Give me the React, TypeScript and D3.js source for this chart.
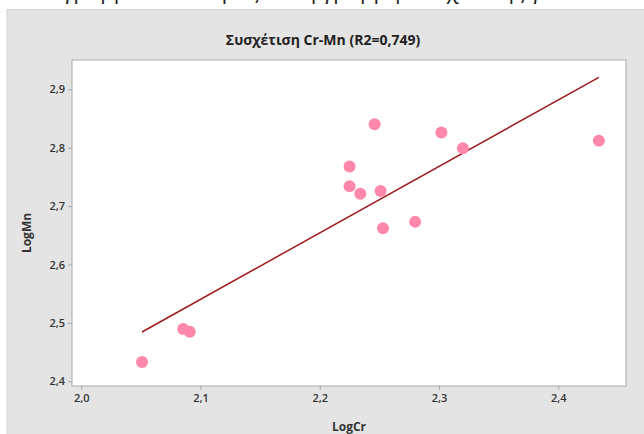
import React, { useEffect, useRef } from "react";
import * as d3 from "d3";

// LogCr / LogMn values
const logCr = [2.051, 2.0855, 2.091, 2.225, 2.225, 2.234, 2.246, 2.251, 2.253, 2.28, 2.302, 2.32, 2.434];
const logMn = [2.433, 2.4895, 2.485, 2.768, 2.734, 2.721, 2.84, 2.726, 2.662, 2.673, 2.826, 2.799, 2.812];

// fitted line (from the picture)
const fitSlope = 1.1386;
const fitIntercept = 0.1492;

const xTicks = [2.0, 2.1, 2.2, 2.3, 2.4];
const yTicks = [2.4, 2.5, 2.6, 2.7, 2.8, 2.9];

const title = "Συσχέτιση Cr-Mn (R2=0,749)";
const headerText = "Διάγραμμα διασποράς και η γραμμή συσχέτισης για Cr-Mn";

const App = () => {
  const svgRef = useRef<SVGSVGElement>(null);

  useEffect(() => {
    const svg = d3.select(svgRef.current);
    svg.selectAll("*").remove();
    const width = 644;
    const height = 434;
    const font = "'Open Sans', 'Noto Sans', sans-serif";
    const plot = { left: 72, right: 626, top: 60, bottom: 386 };

    // heading above the panel, cut off by the page top (only its lower part shows)
    svg
      .append("text")
      .attr("x", 330)
      .attr("y", -1)
      .attr("text-anchor", "middle")
      .attr("font-family", font)
      .attr("font-size", 22)
      .attr("fill", "#222")
      .text(headerText);

    // panel
    svg
      .append("rect")
      .attr("x", 7)
      .attr("y", 9.5)
      .attr("width", width)
      .attr("height", height)
      .attr("fill", "#e4e4e4")
      .attr("stroke", "#d4d4d4");

    svg
      .append("rect")
      .attr("x", plot.left)
      .attr("y", plot.top)
      .attr("width", plot.right - plot.left)
      .attr("height", plot.bottom - plot.top)
      .attr("fill", "#fff")
      .attr("stroke", "#a8a8a8");

    const x = d3.scaleLinear().domain([2.0, 2.4]).range([81.2, 558.3]);
    const y = d3.scaleLinear().domain([2.4, 2.9]).range([381.3, 89.3]);

    const fmt = (d: number) => d3.format(".1f")(d).replace(".", ",");

    const xAxis = svg
      .append("g")
      .attr("transform", `translate(0,${plot.bottom})`)
      .call(d3.axisBottom(x).tickValues(xTicks).tickFormat(fmt as any).tickSize(4).tickPadding(4));
    const yAxis = svg
      .append("g")
      .attr("transform", `translate(${plot.left},0)`)
      .call(d3.axisLeft(y).tickValues(yTicks).tickFormat(fmt as any).tickSize(4).tickPadding(3));

    [xAxis, yAxis].forEach((g) => {
      g.select(".domain").remove();
      g.selectAll("line").attr("stroke", "#a8a8a8");
      g.selectAll("text")
        .attr("font-family", font)
        .attr("font-size", 11)
        .attr("font-weight", 600)
        .attr("fill", "#333");
    });

    // fit line across data range
    const [xmin, xmax] = d3.extent(logCr) as [number, number];
    svg
      .append("line")
      .attr("x1", x(xmin))
      .attr("y1", y(fitIntercept + fitSlope * xmin))
      .attr("x2", x(xmax))
      .attr("y2", y(fitIntercept + fitSlope * xmax))
      .attr("stroke", "#9e1a1a")
      .attr("stroke-width", 1.5);

    svg
      .append("g")
      .selectAll("circle")
      .data(logCr)
      .enter()
      .append("circle")
      .attr("cx", (d) => x(d))
      .attr("cy", (d, i) => y(logMn[i]))
      .attr("r", 6)
      .attr("fill", "#ff88aa");

    svg
      .append("text")
      .attr("x", 323)
      .attr("y", 45)
      .attr("text-anchor", "middle")
      .attr("font-family", font)
      .attr("font-size", 14)
      .attr("font-weight", 700)
      .attr("fill", "#222")
      .text(title);

    svg
      .append("text")
      .attr("x", 349)
      .attr("y", 431)
      .attr("text-anchor", "middle")
      .attr("font-family", font)
      .attr("font-size", 12)
      .attr("font-weight", 700)
      .attr("fill", "#333")
      .text("LogCr");

    svg
      .append("text")
      .attr("transform", "translate(31,233) rotate(-90)")
      .attr("text-anchor", "middle")
      .attr("font-family", font)
      .attr("font-size", 12)
      .attr("font-weight", 700)
      .attr("fill", "#333")
      .text("LogMn");
  }, []);

  return (
    <svg
      ref={svgRef}
      width={644}
      height={434}
      style={{ position: "absolute", left: 0, top: 0, background: "#fff" }}
    />
  );
};

export default App;
